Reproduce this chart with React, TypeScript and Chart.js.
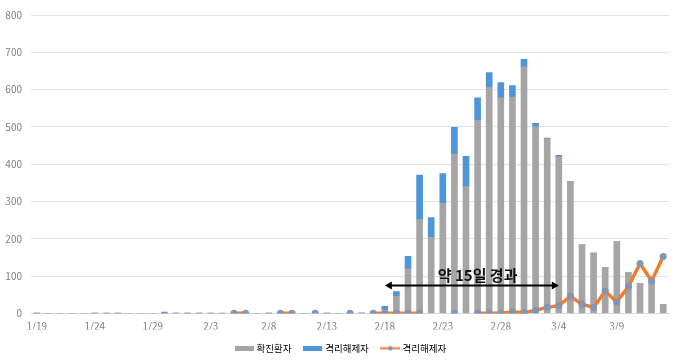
import React, { useEffect, useRef } from 'react';
import { Chart, registerables } from 'chart.js';

Chart.register(...registerables);

const dates = [
  '1/19', '1/20', '1/21', '1/22', '1/23', '1/24', '1/25', '1/26', '1/27', '1/28', '1/29', '1/30', '1/31',
  '2/1', '2/2', '2/3', '2/4', '2/5', '2/6', '2/7', '2/8', '2/9', '2/10', '2/11', '2/12', '2/13', '2/14',
  '2/15', '2/16', '2/17', '2/18', '2/19', '2/20', '2/21', '2/22', '2/23', '2/24', '2/25', '2/26', '2/27',
  '2/28', '2/29', '3/1', '3/2', '3/3', '3/4', '3/5', '3/6', '3/7', '3/8', '3/9', '3/10', '3/11', '3/12', '3/13',
];

const shownTicks = ['1/19', '1/24', '1/29', '2/3', '2/8', '2/13', '2/18', '2/23', '2/28', '3/4', '3/9'];

// 확진환자 (gray bars)
const confirmed = [
  1, 0, 0, 0, 0, 1, 1, 1, 0, 0,
  0, 1, 1, 1, 1, 1, 0, 2, 2, 0,
  1, 2, 2, 0, 2, 1, 0, 2, 0, 2,
  10, 46, 120, 252, 204, 295, 427, 340, 518, 606,
  578, 580, 661, 501, 468, 420, 354, 184, 162, 123,
  193, 110, 81, 90, 24,
];

// 격리해제자 (blue bars stacked on gray)
const releasedBar = [
  0, 0, 0, 0, 0, 0, 0, 0, 0, 0,
  0, 3, 0, 0, 0, 0, 1, 0, 0, 0,
  0, 0, 0, 0, 0, 0, 0, 0, 2, 0,
  9, 13, 33, 119, 53, 80, 72, 81, 60, 40,
  41, 31, 20, 9, 2, 4, 0, 0, 0, 0,
  0, 0, 0, 0, 0,
];

// 격리해제자 (orange line)
const releasedLine = [
  null, null, null, null, null, null, null, null, null, null,
  null, null, null, null, null, null, null, 1, 1, null,
  null, 1, 1, null, 1, null, null, 1, null, 1,
  1, 1, 1, 1, null, null, 1, null, 1, 1,
  1, 4, 3, 8, 17, 21, 46, 25, 16, 60,
  31, 72, 134, 87, 153,
];

const yTicks = [0, 100, 200, 300, 400, 500, 600, 700, 800];

const arrowFrom = '2/18';
const arrowTo = '3/4';
const arrowValue = 75;
const noteAnchor = '2/26';
const noteValue = 103;
const noteText = '약 15일 경과';

const GRAY = '#a5a5a5';
const BLUE = '#4f95d9';
const ORANGE = '#ed7d31';
const MARKER = '#8096b4';
const TICK = '#7f7f7f';
const FONT = "'Noto Sans CJK KR', 'Noto Sans', sans-serif";

const arrowPlugin = {
  id: 'arrowNote',
  afterDatasetsDraw(chart: any) {
    const { ctx, scales } = chart;
    const x = scales.x;
    const y = scales.y;
    const x1 = x.getPixelForValue(dates.indexOf(arrowFrom));
    const x2 = x.getPixelForValue(dates.indexOf(arrowTo));
    const ay = y.getPixelForValue(arrowValue);
    const head = 7;
    const hw = 4;
    ctx.save();
    ctx.strokeStyle = '#000';
    ctx.fillStyle = '#000';
    ctx.lineWidth = 2;
    ctx.beginPath();
    ctx.moveTo(x1 + head - 1, ay);
    ctx.lineTo(x2 - head + 1, ay);
    ctx.stroke();
    ctx.beginPath();
    ctx.moveTo(x1, ay);
    ctx.lineTo(x1 + head, ay - hw);
    ctx.lineTo(x1 + head, ay + hw);
    ctx.closePath();
    ctx.fill();
    ctx.beginPath();
    ctx.moveTo(x2, ay);
    ctx.lineTo(x2 - head, ay - hw);
    ctx.lineTo(x2 - head, ay + hw);
    ctx.closePath();
    ctx.fill();
    const tx = x.getPixelForValue(dates.indexOf(noteAnchor));
    const ty = y.getPixelForValue(noteValue);
    ctx.font = `bold 15px ${FONT}`;
    ctx.textAlign = 'center';
    ctx.textBaseline = 'middle';
    ctx.fillStyle = '#111';
    ctx.fillText(noteText, tx, ty);
    ctx.restore();
  },
};

// centre the legend row (Chart.js counts a trailing padding on the row)
const legendCentre = {
  id: 'legendCentre',
  afterLayout(chart: any) {
    const lg = chart.legend;
    if (!lg) return;
    const shift = (lg.options.labels.padding || 0) / 2;
    lg.left += shift;
    lg.right += shift;
  },
};

function boxIcon(color: string) {
  const c = document.createElement('canvas');
  c.width = 19;
  c.height = 5;
  const g = c.getContext('2d')!;
  g.fillStyle = color;
  g.fillRect(0, 0, 19, 5);
  return c;
}

function lineIcon() {
  const c = document.createElement('canvas');
  c.width = 20;
  c.height = 7;
  const g = c.getContext('2d')!;
  g.strokeStyle = ORANGE;
  g.lineWidth = 2;
  g.beginPath();
  g.moveTo(0, 3.5);
  g.lineTo(20, 3.5);
  g.stroke();
  g.fillStyle = MARKER;
  g.beginPath();
  g.arc(10, 3.5, 2.2, 0, Math.PI * 2);
  g.fill();
  return c;
}

export default function App() {
  const ref = useRef<HTMLCanvasElement | null>(null);

  useEffect(() => {
    if (!ref.current) return;
    const icons = [boxIcon(GRAY), boxIcon(BLUE), lineIcon()];
    const chart = new Chart(ref.current, {
      type: 'bar',
      data: {
        labels: dates,
        datasets: [
          {
            type: 'line',
            label: '격리해제자',
            data: releasedLine as any,
            borderColor: ORANGE,
            backgroundColor: ORANGE,
            borderWidth: 3.5,
            pointRadius: 3.5,
            pointBackgroundColor: MARKER,
            pointBorderColor: MARKER,
            pointBorderWidth: 0,
            spanGaps: false,
            stack: 'line',
            order: 0,
          } as any,
          {
            type: 'bar',
            label: '확진환자',
            data: confirmed,
            backgroundColor: GRAY,
            barThickness: 6,
            stack: 'bars',
            order: 1,
          },
          {
            type: 'bar',
            label: '격리해제자',
            data: releasedBar,
            backgroundColor: BLUE,
            barThickness: 6,
            stack: 'bars',
            order: 1,
          },
        ],
      },
      options: {
        animation: false,
        responsive: true,
        maintainAspectRatio: false,
        layout: { padding: { top: 11, right: 11, left: 0, bottom: 1 } },
        plugins: {
          tooltip: { enabled: false },
          legend: {
            position: 'bottom',
            labels: {
              usePointStyle: true,
              pointStyleWidth: 15,
              boxHeight: 7,
              padding: 14,
              color: '#6b6b6b',
              font: { size: 9.5, family: FONT },
              generateLabels: () => [
                { text: '확진환자', pointStyle: icons[0], fillStyle: GRAY, strokeStyle: GRAY, lineWidth: 0, hidden: false, datasetIndex: 1 },
                { text: '격리해제자', pointStyle: icons[1], fillStyle: BLUE, strokeStyle: BLUE, lineWidth: 0, hidden: false, datasetIndex: 2 },
                { text: '격리해제자', pointStyle: icons[2], fillStyle: ORANGE, strokeStyle: ORANGE, lineWidth: 0, hidden: false, datasetIndex: 0 },
              ] as any,
            },
          },
        },
        scales: {
          x: {
            stacked: true,
            afterFit: (s: any) => {
              s.height = 16;
            },
            grid: { display: false, drawTicks: false },
            border: { display: true, color: '#d9d9d9' },
            ticks: {
              autoSkip: false,
              maxRotation: 0,
              padding: 7,
              color: TICK,
              font: { size: 10, family: FONT },
              callback: (_v: any, i: number) => (shownTicks.includes(dates[i]) ? dates[i] : ''),
            },
          },
          y: {
            stacked: true,
            min: yTicks[0],
            max: yTicks[yTicks.length - 1],
            afterFit: (s: any) => {
              s.width = 31;
            },
            afterBuildTicks: (s: any) => {
              s.ticks = yTicks.map((v) => ({ value: v }));
            },
            grid: { color: '#e3e3e3', drawTicks: false },
            border: { display: false },
            ticks: {
              padding: 9,
              color: TICK,
              font: { size: 10, family: FONT },
            },
          },
        },
      },
      plugins: [arrowPlugin, legendCentre],
    });
    return () => chart.destroy();
  }, []);

  return (
    <div style={{ position: 'fixed', left: 0, top: 0, width: 680, height: 364, background: '#fff' }}>
      <canvas ref={ref} />
    </div>
  );
}
